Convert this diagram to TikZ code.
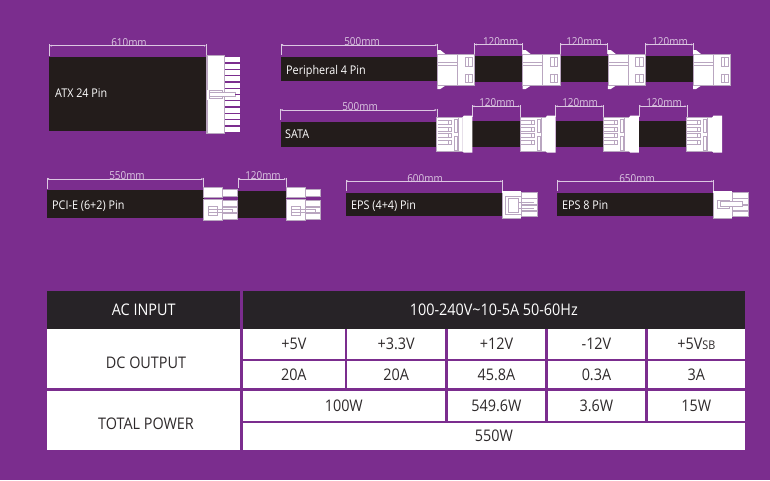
\documentclass[tikz,border=0pt]{standalone}
\usepackage{fontspec}
\setmainfont[FakeStretch=0.9]{Open Sans}
\usetikzlibrary{arrows.meta}
\definecolor{bgp}{HTML}{7B2D8E}
\definecolor{hdr}{HTML}{272327}
\definecolor{cab}{HTML}{231C1B}
\definecolor{ink}{HTML}{2E2A2B}
\definecolor{edge}{HTML}{B9A6C0}
\definecolor{dimc}{HTML}{DCC8E2}
\tikzset{
  tcellbox/.style={draw=none,fill=white,text=ink,inner sep=0pt,text height=10.6pt,text depth=0pt,font=\fontsize{16}{16}\selectfont},
  thead/.style={tcellbox,fill=hdr,text=white},
  tlabel/.style={text=ink,inner sep=0pt,anchor=base,font=\fontsize{16}{16}\selectfont},
  cablebox/.style={draw=none,fill=cab,inner sep=0pt},
  cablelabel/.style={text=white,inner sep=0pt,anchor=west,yshift=-1.4pt,text height=8pt,text depth=2pt,font=\fontsize{12}{12}\selectfont},
  dimlabel/.style={text=dimc,inner sep=0pt,yshift=-1pt,font=\fontsize{11}{11}\selectfont},
  dimline/.style={draw=dimc,line width=0.5pt,{Latex[length=2pt,width=2pt]}-{Latex[length=2pt,width=2pt]}},
  dimtick/.style={draw=dimc,line width=0.4pt},
  part/.style={draw=edge,line width=0.5pt,fill=white},
  partline/.style={draw=edge,line width=0.4pt},
}
% name, x1,y1,x2,y2, style, text
\newcommand{\boxcell}[7]{%
  \pgfmathsetmacro{\bcx}{(#2+#4)/2}\pgfmathsetmacro{\bcy}{(#3+#5)/2}%
  \pgfmathsetmacro{\bcw}{#4-#2}\pgfmathsetmacro{\bch}{#5-#3}%
  \node[#6,minimum width=\bcw pt,minimum height=\bch pt] (#1) at (\bcx,\bcy) {#7};}
% name, x1, x2, line y, bottom y, text x, text y, text
\newcommand{\dimension}[8]{%
  \coordinate (#1a) at (#2,#4); \coordinate (#1b) at (#3,#4);
  \coordinate (#1c) at (#2,#5); \coordinate (#1d) at (#3,#5);
  \draw[dimtick] ([yshift=1.5pt]#1a) -- (#1c);
  \draw[dimtick] ([yshift=1.5pt]#1b) -- (#1d);
  \draw[dimline] (#1a) -- (#1b);
  \node[dimlabel] (#1t) at (#6,#7) {#8};}
% peripheral connector at x
\newcommand{\molex}[1]{\begin{scope}[shift={(#1,0)}]
  \fill[white] (0,50) -- (3,50) -- (8,54) -- (0,54) -- cycle;
  \fill[white] (0,89) -- (3,89) -- (8,85.7) -- (0,85.7) -- cycle;
  \draw[part] (0,54) rectangle (37.3,85.7);
  \draw[partline] (20,54) -- (20,85.7);
  \draw[partline] (0,62.2) -- (20,62.2) (0,64.7) -- (20,64.7);
  \draw[partline] (27.7,56.7) rectangle (35,65.7);
  \draw[partline] (27.7,74.3) rectangle (35,81.7);
  \draw[partline] (31.3,56.7) -- (31.3,65.7) (31.3,74.3) -- (31.3,81.7);
\end{scope}}
% sata connector at x
\newcommand{\satacon}[1]{\begin{scope}[shift={(#1,0)}]
  \draw[part] (0,117.7) rectangle (26,151);
  \fill[white] (25.6,117.7) -- (27,115.7) -- (35.6,115.7) -- (35.6,152.7) -- (27,152.7) -- (25.6,151) -- cycle;
  \draw[partline] (21,117.7) -- (21,151);
  \draw[partline] (17,119) rectangle (20,132) (17,136) rectangle (20,150);
  \foreach \r in {120.5,127,133.5,140}{
    \draw[partline] (1,\r) -- (11,\r) (1,\r+4) -- (11,\r+4);
    \draw[partline] (11,\r) rectangle (14,\r+4);
  }
\end{scope}}
% pcie connector at x
\newcommand{\pcicon}[1]{\begin{scope}[shift={(#1,0)}]
  \draw[part] (0,187.7) rectangle (19,197.3);
  \draw[part] (19.4,189.3) rectangle (34,196.7);
  \draw[part] (0,199.3) rectangle (19,220.7);
  \draw[part] (19.4,200.7) rectangle (34,206.3);
  \draw[part] (19.4,207.3) rectangle (34,212.7);
  \draw[part] (19.4,213.7) rectangle (34,219);
  \draw[partline] (5,206) rectangle (14,215);
  \draw[partline] (5,209) -- (29,209) -- (29,212) -- (5,212);
\end{scope}}
% eps connector at x
\newcommand{\epscon}[1]{\begin{scope}[shift={(#1,0)}]
  \fill[white] (0,190.7) rectangle (19,217.7);
  \draw[partline] (0,192.7) -- (0,217.7) -- (19,217.7);
  \draw[part] (19.3,192.7) rectangle (34.5,198);
  \draw[part] (19.3,198.7) rectangle (34.5,204);
  \draw[part] (19.3,205) rectangle (34.5,210.3);
  \draw[part] (19.3,211.3) rectangle (34.5,216.7);
\end{scope}}
\begin{document}
\begin{tikzpicture}[x=1pt,y=-1pt]
\useasboundingbox (0,0) rectangle (770,480);
\fill[bgp] (0,0) rectangle (770,480);

% ATX
\boxcell{atx}{49.3}{57.4}{206}{131.4}{cablebox}{}
\node[cablelabel] (atxl) at (55,93) {ATX 24 Pin};
\dimension{datx}{49.5}{206}{45.7}{56}{129}{42}{610mm}
\foreach \r in {0,...,11}{
  \fill[white] (225,{57.3+\r*6.3}) rectangle (240,{57.3+\r*6.3+5});
}
\fill[white] (206,55.3) rectangle (224.5,133.3);
\draw[partline] (206.3,55.3) -- (224.5,55.3) -- (224.5,133.3) -- (206.3,133.3);
\fill[edge] (206,55.3) rectangle (207.6,133.3);
\fill[white] (207,89.5) rectangle (212,99.5);
\draw[partline] (209,90) rectangle (222,98.5);
\fill[white] (209.5,92.5) -- (235,92.5) -- (235,96.5) -- (209.5,96.5) -- cycle;
\draw[partline] (209.5,92.5) -- (235,92.5) -- (235,96.5) -- (209.5,96.5);
\fill[bgp] (235,93.8) rectangle (240,95);

% Peripheral
\boxcell{per1}{281}{56.6}{437.5}{81.2}{cablebox}{}
\boxcell{per2}{474.5}{56.3}{522.7}{81.5}{cablebox}{}
\boxcell{per3}{560}{56.3}{607.9}{81.5}{cablebox}{}
\boxcell{per4}{645.2}{56.3}{693.2}{81.5}{cablebox}{}
\node[cablelabel] (perl) at (286,70) {Peripheral 4 Pin};
\dimension{dp0}{281}{437.3}{45}{55}{362}{41}{500mm}
\dimension{dp1}{474.5}{522.5}{44.5}{54}{500.7}{40.5}{120mm}
\dimension{dp2}{560.2}{607.5}{44.5}{54}{584}{40.5}{120mm}
\dimension{dp3}{645.3}{693}{44.5}{54}{670}{40.5}{120mm}
\molex{437.3}\molex{522.6}\molex{607.8}\molex{693}

% SATA
\boxcell{sat1}{280.5}{121.7}{436.9}{146.9}{cablebox}{}
\boxcell{sat2}{472}{121}{520.2}{147}{cablebox}{}
\boxcell{sat3}{555.6}{121}{603.5}{147}{cablebox}{}
\boxcell{sat4}{638.7}{121}{686.9}{147}{cablebox}{}
\node[cablelabel] (satl) at (285,134.5) {SATA};
\dimension{ds0}{280.5}{436.7}{110}{120}{360}{105.5}{500mm}
\dimension{ds1}{472.3}{520}{106.3}{117}{497}{101.7}{120mm}
\dimension{ds2}{555.5}{603.3}{106.3}{117}{580}{101.7}{120mm}
\dimension{ds3}{638.7}{686.7}{106.3}{117}{664}{101.7}{120mm}
\satacon{436.7}\satacon{520}\satacon{603.3}\satacon{686.4}

% PCI-E
\boxcell{pci1}{47}{190}{203.7}{217.5}{cablebox}{}
\boxcell{pci2}{237.7}{190.5}{286.3}{217.5}{cablebox}{}
\node[cablelabel] (pcil) at (52,205) {PCI-E (6+2) Pin};
\dimension{dc0}{47}{203.3}{179}{189}{127}{175}{550mm}
\dimension{dc1}{238}{286}{179}{188}{263}{175}{120mm}
\pcicon{203.3}\pcicon{286}

% EPS 4+4
\boxcell{eps1}{346}{192.7}{502.5}{216}{cablebox}{}
\node[cablelabel] (epsl) at (351,205) {EPS (4+4) Pin};
\dimension{de0}{346}{502.3}{181.3}{191}{425}{177.3}{600mm}
\epscon{502.3}
\draw[partline] (505,196) rectangle (521,214);
\draw[partline] (508,198) rectangle (518,212);
\draw[partline] (518,202) -- (534,202) (518,208) -- (534,208);

% EPS 8
\boxcell{eps2}{557.3}{192.7}{713.5}{216}{cablebox}{}
\node[cablelabel] (eps8l) at (562,205) {EPS 8 Pin};
\dimension{de1}{557.3}{713.3}{181.3}{190.5}{637}{177.3}{650mm}
\epscon{713.3}
\draw[partline] (717,200.5) rectangle (729,208);
\fill[white] (720,201.5) rectangle (742,206.5);
\draw[partline] (720,201.5) rectangle (742,206.5);

% Table
\boxcell{ach}{47}{291}{240.4}{328.5}{thead}{AC INPUT}
\boxcell{acv}{242.6}{291}{745}{328.5}{thead}{100-240V\textasciitilde 10-5A 50-60Hz}
\boxcell{dch}{47}{329.4}{240.4}{388.3}{tcellbox}{}
\node[tlabel] (dcl) at (146,368.3) {DC OUTPUT};
\boxcell{tph}{47}{391}{240.4}{450}{tcellbox}{}
\node[tlabel] (tpl) at (146,429) {TOTAL POWER};
\boxcell{v1}{242.6}{329.4}{345}{359}{tcellbox}{+5V}
\boxcell{v2}{347.2}{329.4}{445}{359}{tcellbox}{+3.3V}
\boxcell{v3}{447.6}{329.4}{545.3}{359}{tcellbox}{+12V}
\boxcell{v4}{547.6}{329.4}{645.3}{359}{tcellbox}{-12V}
\boxcell{v5}{647.6}{329.4}{745}{359}{tcellbox}{+5V{\fontsize{12}{12}\selectfont SB}}
\boxcell{a1}{242.6}{361.2}{345}{388.3}{tcellbox}{20A}
\boxcell{a2}{347.2}{361.2}{445}{388.3}{tcellbox}{20A}
\boxcell{a3}{447.6}{361.2}{545.3}{388.3}{tcellbox}{45.8A}
\boxcell{a4}{547.6}{361.2}{645.3}{388.3}{tcellbox}{0.3A}
\boxcell{a5}{647.6}{361.2}{745}{388.3}{tcellbox}{3A}
\boxcell{w1}{242.6}{391}{445}{420.7}{tcellbox}{100W}
\boxcell{w3}{447.6}{391}{545.3}{420.7}{tcellbox}{549.6W}
\boxcell{w4}{547.6}{391}{645.3}{420.7}{tcellbox}{3.6W}
\boxcell{w5}{647.6}{391}{745}{420.7}{tcellbox}{15W}
\boxcell{tot}{242.6}{422.8}{745}{450}{tcellbox}{550W}
\end{tikzpicture}
\end{document}
